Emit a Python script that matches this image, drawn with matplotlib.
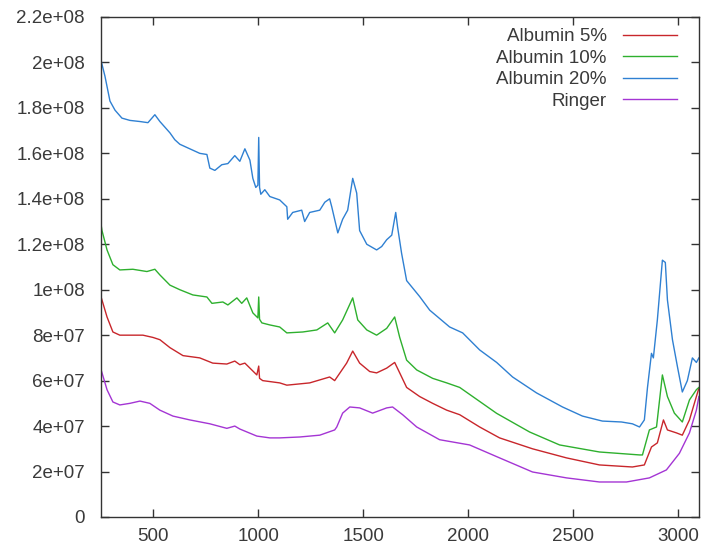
import matplotlib
matplotlib.use('Agg')
import matplotlib.pyplot as plt
import numpy as np

plt.rcParams['font.family'] = ['Liberation Sans', 'DejaVu Sans']

# values, y in units of 1e6
blue_x = [250, 269, 293, 317, 350, 388, 436, 474, 507, 531, 579, 602, 626, 721, 755, 769, 793, 826, 855, 888,
          912, 936, 960, 974, 988, 998, 1002, 1006, 1012, 1031, 1055, 1102, 1136, 1140, 1164, 1207, 1221, 1245,
          1293, 1317, 1340, 1350, 1379, 1402, 1426, 1450, 1469, 1483, 1517, 1564, 1588, 1612, 1636, 1655, 1664,
          1683, 1707, 1769, 1817, 1912, 1974, 2055, 2136, 2212, 2326, 2450, 2545, 2640, 2731, 2783, 2817, 2840,
          2855, 2874, 2883, 2902, 2926, 2940, 2950, 2974, 2998, 3021, 3045, 3069, 3088, 3100]
blue_y = [201, 194, 183, 179, 175.5, 174.5, 174, 173.5, 177, 174, 169, 166, 164, 160, 159.5, 153.5, 152.5, 155,
          155.5, 159, 156.5, 162, 157, 149, 145, 146, 167, 145, 142, 144, 141, 139.5, 136.5, 131, 134, 135, 130,
          134, 135, 138.5, 140, 136.5, 125, 131, 135, 149, 142.5, 126, 120, 117.5, 119, 122, 124, 134, 127.5,
          116, 104, 97, 91, 83.6, 81, 73.5, 68, 61.6, 54.6, 48.4, 44.4, 42.2, 41.8, 41, 39.6, 42.7,
          57, 72, 70, 86.7, 113, 112, 95.5, 78, 66, 55, 60, 70, 68, 70]

green_x = [250, 255, 279, 307, 340, 402, 469, 507, 531, 579, 626, 688, 755, 779, 831, 855, 898, 921, 945, 974,
           998, 1002, 1006, 1017, 1055, 1102, 1136, 1212, 1279, 1331, 1364, 1402, 1450, 1474, 1517, 1564, 1612,
           1650, 1674, 1707, 1755, 1831, 1898, 1960, 2136, 2293, 2436, 2626, 2817, 2831, 2864, 2898, 2926, 2950,
           2983, 3021, 3055, 3088, 3100]
green_y = [129, 126, 117.5, 111, 108.7, 109, 108, 109, 106.5, 102, 100, 97.7, 96.8, 94, 94.6, 93.3, 96.4, 94,
           96.4, 89.8, 87.6, 96.8, 87, 85.4, 84.5, 83.6, 81, 81.4, 82.3, 85.4, 81, 86.7, 96.4, 86.7, 82.3, 80,
           83, 88, 79, 69, 64.7, 61, 59, 57, 45.6, 37.4, 31.7, 28.6, 27.3, 27.3, 38.3, 39.6, 62.5, 53,
           45.7, 41.8, 51.5, 56, 57]

red_x = [250, 279, 307, 340, 402, 450, 498, 531, 579, 641, 721, 783, 850, 888, 912, 936, 993, 1002, 1006, 1021,
         1102, 1136, 1245, 1340, 1364, 1421, 1450, 1483, 1531, 1564, 1612, 1650, 1674, 1707, 1769, 1831, 1898,
         1960, 2055, 2150, 2307, 2469, 2626, 2783, 2840, 2874, 2902, 2931, 2950, 2993, 3021, 3055, 3088, 3100]
red_y = [97, 88, 81.4, 80, 80, 80, 79, 78, 74.5, 71, 70, 67.7, 67.3, 68.6, 67, 67.7, 62.5, 66.4, 61, 60,
         59, 58, 59, 61.6, 60, 67.7, 73, 67.7, 64, 63.4, 65.5, 68, 63.4, 57, 53, 50, 47,
         45, 39.6, 34.8, 30, 26, 22.9, 22, 22.9, 30.8, 32.6, 42.7, 38.3, 37, 36, 42.7, 53, 56.7]

purple_x = [250, 279, 307, 340, 388, 436, 483, 531, 593, 674, 769, 850, 888, 912, 993, 1055, 1102, 1198, 1293,
            1364, 1374, 1402, 1436, 1483, 1545, 1612, 1640, 1688, 1755, 1864, 2007, 2150, 2307, 2469, 2626,
            2755, 2864, 2945, 3007, 3055, 3088, 3100]
purple_y = [65, 56, 50.6, 49.3, 50, 51, 50, 47, 44.4, 42.7, 41, 39, 40, 38.7, 35.6, 34.8, 34.8, 35.2, 36,
            38.3, 39.6, 45.7, 48.4, 48, 45.7, 48, 48.4, 45, 39.6, 34, 31.7, 26, 19.8, 17.2, 15.4,
            15.4, 17.2, 20.7, 28, 37, 47, 53]

labels = ['Albumin 5%', 'Albumin 10%', 'Albumin 20%', 'Ringer']
colors = ['#c8262b', '#2eb02e', '#2f80d2', '#a435d4']

fig = plt.figure(figsize=(7.01, 5.48), dpi=100)
ax = fig.add_axes([0.144, 0.0566, 0.853, 0.9124])

series = [(red_x, red_y), (green_x, green_y), (blue_x, blue_y), (purple_x, purple_y)]
for (xs, ys), lab, c in zip(series, labels, colors):
    ax.plot(xs, np.array(ys) * 1e6, color=c, lw=1.0, label=lab)

ax.set_xlim(250, 3100)
ax.set_ylim(0, 2.2e8)
ax.set_xticks([500, 1000, 1500, 2000, 2500, 3000])
yt = np.arange(0, 2.21e8, 2e7)
ax.set_yticks(yt)
ax.set_yticklabels(['0'] + ['%ge+0%d' % (v / 10 ** int(np.log10(v)), int(np.log10(v))) for v in yt[1:]])

ax.tick_params(direction='in', length=6, width=1, top=True, right=True, labelsize=13.5,
               labelcolor='#3a3a3a', color='#333333')
ax.tick_params(axis='y', pad=11.5)
ax.tick_params(axis='x', pad=8)
for s in ax.spines.values():
    s.set_color('#333333')
    s.set_linewidth(1.0)

leg = ax.legend(loc='upper right', bbox_to_anchor=(0.976, 0.993), borderaxespad=0, frameon=False,
                markerfirst=False, alignment='right', fontsize=13.5, handlelength=2.9,
                handletextpad=0.85, labelspacing=0.24)
for t in leg.get_texts():
    t.set_color('#3a3a3a')

fig.savefig('out.png', dpi=100)
